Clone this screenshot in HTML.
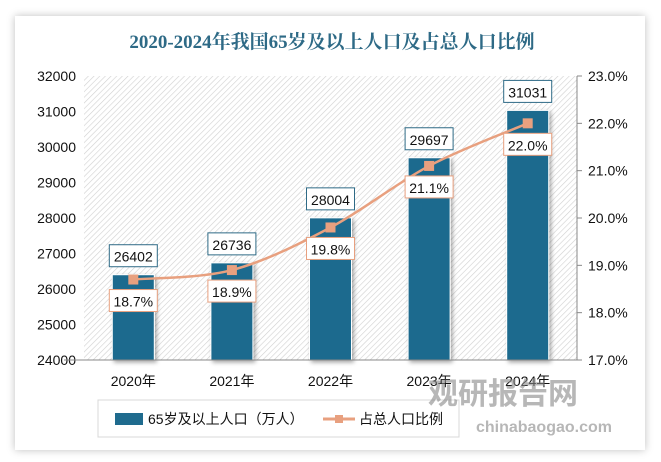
<!DOCTYPE html>
<html><head><meta charset="utf-8"><style>
body{margin:0;background:#fff;width:661px;height:462px;overflow:hidden;font-family:"Liberation Sans","Noto Sans CJK SC",sans-serif}
#card{position:absolute;left:15px;top:16px;width:630px;height:434px;background:#fff;box-shadow:0 0 8px rgba(0,0,0,0.25)}
</style></head><body>
<div id="card"></div>
<svg id="chart" width="661" height="462" style="position:absolute;left:0;top:0">
<defs>
<pattern id="hatch" width="4" height="4" patternUnits="userSpaceOnUse" patternTransform="rotate(45)">
<rect width="4" height="4" fill="#fff"/><line x1="0" y1="0" x2="0" y2="4" stroke="#d0d0d0" stroke-width="1.2"/>
</pattern>
<filter id="sh" x="-20%" y="-10%" width="150%" height="120%"><feDropShadow dx="2" dy="2" stdDeviation="2" flood-opacity="0.35"/></filter>
</defs>
<text x="332" y="48" text-anchor="middle" font-size="19" font-weight="bold" fill="#2e6a86" font-family="Liberation Serif,'Noto Serif CJK SC',serif">2020-2024年我国65岁及以上人口及占总人口比例</text>
<rect x="84" y="76" width="493" height="284" fill="url(#hatch)"/>
<g id="g"></g>
<rect x="98" y="400" width="361" height="37" fill="#fff" stroke="#d8d8d8"/>
<rect x="115" y="413" width="28" height="12" fill="#1f6b8e"/>
<text x="148" y="424" font-size="14" fill="#111">65岁及以上人口（万人）</text>
<line x1="323" y1="419" x2="355" y2="419" stroke="#e8a07f" stroke-width="3"/>
<rect x="335" y="415" width="8" height="8" fill="#e8a07f"/>
<text x="359" y="424" font-size="14" fill="#111">占总人口比例</text>
<text x="578" y="404" text-anchor="end" font-size="30" font-weight="bold" fill="#888" opacity="0.6">观研报告网</text>
<text x="612" y="432" text-anchor="end" font-size="16" font-weight="bold" fill="#888" opacity="0.6">chinabaogao.com</text>
</svg>
<script>
const categories=["2020年","2021年","2022年","2023年","2024年"];
const population=[26402,26736,28004,29697,31031];
const ratio=[18.7,18.9,19.8,21.1,22.0];
const leftTicks=[24000,25000,26000,27000,28000,29000,30000,31000,32000];
const rightTicks=[17,18,19,20,21,22,23];
const NS="http://www.w3.org/2000/svg";
const g=document.getElementById('g');
const X0=84,X1=577,Y0=360,Y1=76;
const band=(X1-X0)/categories.length;
const xc=i=>X0+band*(i+0.5);
const yL=v=>Y0-(v-24000)/8000*(Y0-Y1);
const yR=v=>Y0-(v-17)/6*(Y0-Y1);
function mk(t,a,txt){const e=document.createElementNS(NS,t);for(const k in a)e.setAttribute(k,a[k]);if(txt!=null)e.textContent=txt;g.appendChild(e);return e;}
leftTicks.forEach(v=>{const e=mk('text',{x:76,y:yL(v)+5,'text-anchor':'end','font-size':14,fill:'#111'},v);

});
let ax=mk('line',{x1:X1,y1:Y1,x2:X1,y2:Y0,stroke:'#888'});


rightTicks.forEach(v=>{const l=mk('line',{x1:X1,x2:X1+5,y1:yR(v),y2:yR(v),stroke:'#888'});


const e=mk('text',{x:588,y:yR(v)+5,'font-size':14,fill:'#111'},v.toFixed(1)+'%');

});
categories.forEach((c,i)=>{
const y=yL(population[i]);
const b=mk('rect',{x:xc(i)-21,y:y,width:42,height:Y0-y,fill:'#1f6b8e',stroke:'#fff','stroke-width':1,filter:'url(#sh)'});


const bx=mk('rect',{x:xc(i)-24,y:y-30,width:48,height:22,fill:'#fff',stroke:'#2e6a86'});


const t=mk('text',{x:xc(i),y:y-13,'text-anchor':'middle','font-size':14,fill:'#111'},population[i]);


const xl=mk('text',{x:xc(i),y:386,'text-anchor':'middle','font-size':14,fill:'#111'},c);


});
let d='';
const pts=ratio.map((v,i)=>[xc(i),yR(v)]);
d='M'+pts[0][0]+','+pts[0][1];
for(let i=1;i<pts.length;i++){const p0=pts[i-2]||pts[i-1],p1=pts[i-1],p2=pts[i],p3=pts[i+1]||p2;
d+=` C${p1[0]+(p2[0]-p0[0])/6},${p1[1]+(p2[1]-p0[1])/6} ${p2[0]-(p3[0]-p1[0])/6},${p2[1]-(p3[1]-p1[1])/6} ${p2[0]},${p2[1]}`;}
const ln=mk('path',{d:d,fill:'none',stroke:'#e8a07f','stroke-width':2.5});


pts.forEach((p,i)=>{
const m=mk('rect',{x:p[0]-5,y:p[1]-5,width:10,height:10,fill:'#e8a07f'});


const bx=mk('rect',{x:p[0]-24,y:p[1]+10,width:48,height:22,fill:'#fff',stroke:'#e8a07f'});


const t=mk('text',{x:p[0],y:p[1]+27,'text-anchor':'middle','font-size':14,fill:'#111'},ratio[i].toFixed(1)+'%');


});
const xa=mk('line',{x1:X0-20,x2:X1,y1:Y0,y2:Y0,stroke:'#888'});


</script>
</body></html>
